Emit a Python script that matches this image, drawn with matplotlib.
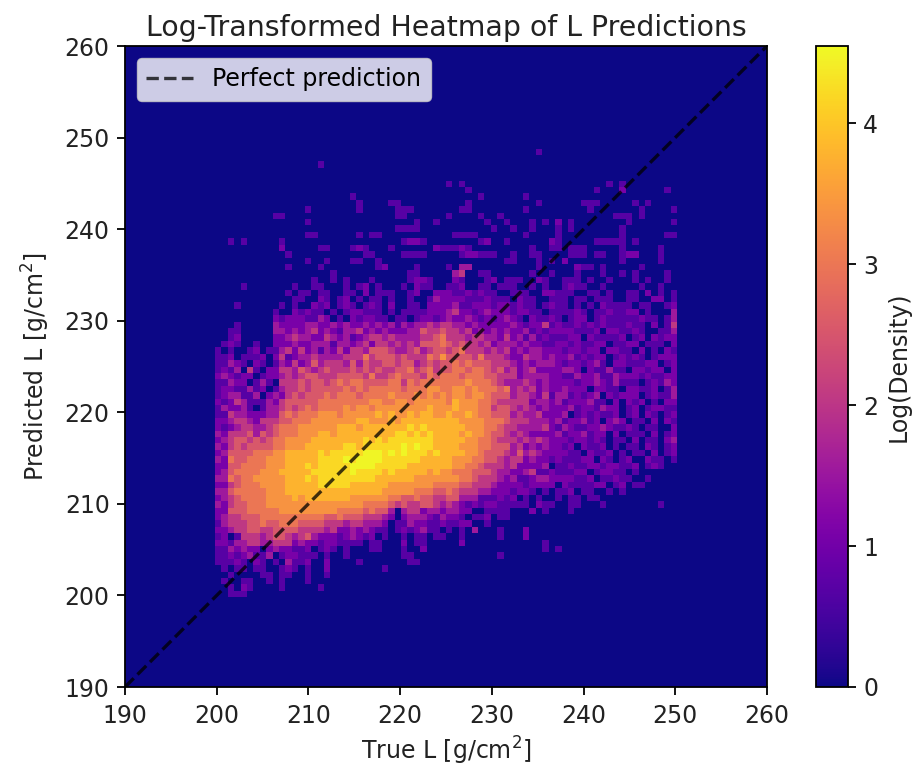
#!/usr/bin/python3
# log density heatmap of predicted vs true L, cell values
import numpy as np
import matplotlib
matplotlib.use("Agg")
import matplotlib.pyplot as plt

title = "Log-Transformed Heatmap of L Predictions"
x_label = "True L [g/cm$^2$]"
y_label = "Predicted L [g/cm$^2$]"
cbar_label = "Log(Density)"
legend_label = "Perfect prediction"
ticks = [190, 200, 210, 220, 230, 240, 250, 260]
cbar_ticks = [0, 1, 2, 3, 4]
n_bins = 100
first_col = 14
top_row = 85
vmax = 4.55

# one character per cell: index into levels (a = 10)
levels = [0, 0.7, 1.1, 1.55, 2.05, 2.55, 3.0, 3.4, 3.8, 4.2, 4.5]

# rows from the top of the populated area downwards
rows = [
    "", "",
    "000000000 000000000 000000000 000000000 000000000 000001000",
    "",
    "000000000 000000010",
    "", "",
    "000000000 000000000 000000000 000000000 101000000 000000000 000000010 100000000",
    "000000000 000000000 000000000 000000000 000100000 000000000 000001000 200000010",
    "000000000 000000000 000100000 000000000 000001000 000100000 000000000 000000000",
    "000000000 000000000 000010000 110000000 000100000 000001000 000111000 001010000",
    "000000000 000001000 000010000 011100000 001100000 000100000 000010000 000100001",
    "000000000 110000000 000000000 011000000 100001001 000000000 000000001 110100000",
    "000000000 000001000 000000000 000010010 000000100 100010102 010000000 010000001",
    "000000000 000000000 000000000 011110000 000000010 010010001 010000000 100000000",
    "000000000 000001100 000010110 000000000 011110000 000100001 000000000 100000011",
    "001010000 010000000 000000000 001221000 000001200 100000021 000001111 101000000",
    "000000000 020000011 000121000 100000021 112100000 000010011 011100000 100000100",
    "000000000 001000000 000001100 001111000 001221110 010011000 011101100 122000100",
    "000000000 000001001 000110010 000000000 000000000 110001010 200000000 100000100",
    "000000000 001000010 000000012 000010000 103300000 000001000 002110100 000100000",
    "000000000 000000000 100000000 000110000 034001100 000010010 001000100 101000010",
    "000000000 000000100 101000100 000122100 021000120 111002100 111010010 001010010",
    "000010000 000100110 001012010 001021100 112001101 110010100 121100100 000100100",
    "000000000 001011011 001102011 100120022 211212110 011100221 110011010 011020101",
    "000000000 000110021 012010110 100100132 222111211 102110011 101101110 011002201",
    "000100000 010100212 012101210 200110222 231122212 212110121 101010211 110110012",
    "000000000 100212110 101221110 101111222 342212322 212211011 112101121 122010003",
    "000000000 212221132 010212211 011012212 322321212 321021121 012201211 111211013",
    "000100000 322223322 323223232 313233434 433232222 232122412 112121211 121102014",
    "001100000 332323423 213342323 222335445 443423232 322312122 221112022 112100113",
    "001200000 223433224 323123443 433334456 444344332 423131211 122021111 201202122",
    "012100100 222322333 133234244 343435556 545443423 332322112 212112201 122011102",
    "101001201 134242313 242443555 433453455 456444343 423233222 122122022 110201021",
    "112011120 241233433 334446455 545444657 555546444 322433232 231212201 212101222",
    "113210210 132423534 443535445 545534545 565655544 432323332 122123102 211122012",
    "121304102 244354345 444545454 455645645 566566545 342342222 332021131 102212202",
    "232122012 234345544 455554644 565554656 665666554 442333322 113223113 222121122",
    "113220131 044454554 565665555 664656666 666766654 333432322 221223213 111012132",
    "122113120 134454555 556565666 665666776 677676665 634342322 322202211 022112013",
    "123311302 324545556 566656666 766676767 677677655 534432413 312123021 222012113",
    "212431113 245555566 666666776 677677777 687776654 444423323 122231102 021201022",
    "132231013 345456566 667677677 777777877 787776645 543432322 231221322 012012211",
    "114332223 356566677 767777787 877878877 877876655 534334222 301212112 012021012",
    "223443244 455666777 777788777 878888888 887777666 544433323 122312023 201102021",
    "212344334 566677777 788878888 888989888 888777665 443333421 321122321 121011002",
    "324445354 566677788 788888888 899898988 887877655 434322223 122312202 011102012",
    "234554545 667777888 888889898 999999988 888776654 443434322 212212101 102011023",
    "324545555 667778888 889989999 99a9a9988 887776655 534232322 120211201 011021012",
    "235555666 778888898 99999aaa9 a9a999898 888776555 435343222 211021120 101102012",
    "326556667 778888899 99a9aaaa9 999998888 877766554 344232212 111220210 120021101",
    "225566667 778889899 999aaaa99 999888888 877665444 342222301 121122122 112012100",
    "235666677 788888999 999a99998 988888787 766655543 322341121 112201221 101000000",
    "336566777 778889899 999999988 888877777 776654443 231123322 221120112 110010000",
    "224566677 778888899 999888888 777777766 665544432 222122220 211112201 201100000",
    "335666667 778888888 888888887 777766655 654443322 212210101 120110010 100000000",
    "234566667 777878888 888777777 665565544 553331112 120101001 011011000 000000000",
    "324556667 777777777 777776666 545445543 432121221 111102110 011000100 000000100",
    "225556666 677777777 766665655 303442332 332200111 100020100 010000000 000000000",
    "234455566 666666665 565554443 202333213 221011201 100000000",
    "134445565 566655554 443443332 011322112 112200100",
    "223445544 555544443 422323211 012123110 101030001 000200000",
    "120144434 554345322 212321201 001011011 001000001 000200000",
    "221334433 444232212 211110110 002011000 002000000 000000100",
    "113232202 322112012 101000110 001002000 000000000 000000101",
    "112123113 012211101 001000000 001100000 000000001",
    "111210210 103112002 000010000 000110000",
    "010110110 012101002 000000001",
    "001000011 011001001",
    "010011001 010001000",
    "001021000 010000010",
    "001110000",
]

density = np.zeros((n_bins, n_bins))
for i, row in enumerate(rows):
    cells = row.replace(" ", "")
    for j, ch in enumerate(cells):
        density[top_row - i, first_col + j] = levels[int(ch, 16)]

fig = plt.figure(figsize=(9.15, 7.68), dpi=100)
ax = fig.add_axes([125 / 915, 1 - 687 / 768, 642 / 915, 641 / 768])
cax = fig.add_axes([816 / 915, 1 - 687 / 768, 32 / 915, 641 / 768])

im = ax.imshow(density, origin="lower", extent=[190, 260, 190, 260], cmap="plasma",
               vmin=0, vmax=vmax, aspect="auto", interpolation="nearest")
ax.plot([190, 260], [190, 260], color="black", ls="--", lw=2.4, alpha=0.75, label=legend_label)
ax.set_xlim(190, 260)
ax.set_ylim(190, 260)
ax.set_xticks(ticks)
ax.set_yticks(ticks)
ax.tick_params(labelsize=17, width=1.3, length=6, labelcolor="#222222", pad=5)
ax.tick_params(axis="x", pad=6)
ax.set_xlabel(x_label, fontsize=17, color="#222222", labelpad=5)
ax.set_ylabel(y_label, fontsize=17, color="#222222", labelpad=9)
ax.set_title(title, fontsize=20.4, color="#222222", pad=7)
ax.legend(loc="upper left", fontsize=17)
for s in ax.spines.values():
    s.set_linewidth(1.3)

cb = fig.colorbar(im, cax=cax)
cb.set_ticks(cbar_ticks)
cb.ax.tick_params(labelsize=17, width=1.3, length=6, labelcolor="#222222", pad=5)
cb.set_label(cbar_label, fontsize=17, color="#222222", labelpad=6)
cb.outline.set_linewidth(1.3)

fig.savefig("out.png", dpi=100)
